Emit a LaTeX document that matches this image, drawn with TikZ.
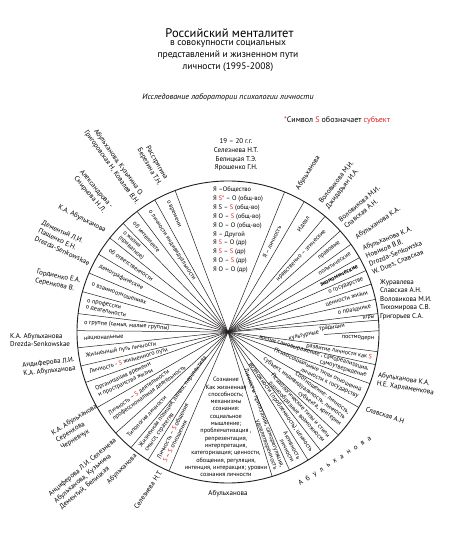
\documentclass[tikz,border=0pt]{standalone}
\usepackage{fontspec}
\setmainfont{PT Sans}
\usepackage{xcolor}
\usetikzlibrary{positioning}
\definecolor{cSubj}{RGB}{226,36,40}
\definecolor{cLine}{RGB}{35,31,32}
\newcommand{\Sr}{\textcolor{cSubj}{S}}
\newcommand{\gapL}{\hskip 4.6pt}

\begin{document}
\begin{tikzpicture}[x=1pt,y=1pt,
   sec/.style={inner sep=0.6pt,font=\fontsize{6.2}{6.9}\selectfont},
   secR/.style={sec,anchor=east,align=right},
   secL/.style={sec,anchor=west,align=left},
   who/.style={inner sep=0pt,align=center,font=\fontsize{7}{8.6}\selectfont},
   whoL/.style={who,align=left},
   spoke/.style={cLine,line width=0.5pt},
   rim/.style={cLine,line width=0.9pt}]
  \useasboundingbox (-228,-205) rectangle (222,332);
  \def\rad{151}
  \coordinate (c) at (0,0);

  % heading
  \node[font=\fontsize{12.5}{14}\selectfont] (title) at (1.5,299) {Российский менталитет};
  \node[align=center,inner sep=0pt,font=\fontsize{9.5}{12}\selectfont] (sub) at (0,276)
     {в совокупности социальных\\ представлений и жизненном пути\\ личности (1995-2008)};
  \node[font=\itshape\fontsize{8}{9}\selectfont] (study) at (0,235) {Исследование лаборатории психологии личности};
  \node[font=\fontsize{8}{9}\selectfont] (note) at (109,212)
     {\textcolor{cSubj}{*}Символ \Sr\ обозначает \textcolor{cSubj}{субъект}};

  % circle and spokes
  \draw[rim] (c) circle (\rad);
  \foreach \a in {110.5,68,59.7,50,42,35.5,29.5,24,18.5,12.5,7,4.5,-7.5,-12.5,-20,-30,-43,-52,-58,-66,-73,
                  119,127,134,141.5,149,157,164.5,173,179.5,186,193,199.5,210,222,230,238,247}
    \draw[spoke] (c) -- (\a:\rad);
  \coordinate (kSplit) at (96,-2.5);
  \draw[spoke] (kSplit) -- (0.5:\rad);

  % top sector
  \node[anchor=west,align=left,inner sep=0pt,font=\fontsize{6.5}{8.9}\selectfont] (soc) at (-15,102)
     {Я –Общество\\ Я \textcolor{cSubj}{S*} – O (общ-во)\\ Я S – \Sr\ (общ-во)\\ Я O – \Sr\ (общ-во)\\
      Я O – O (общ-во)\\ Я – Другой\\ Я \Sr\ – O (др)\\ Я \Sr\ – \Sr\ (др)\\ Я O – \Sr\ (др)\\ Я O – O (др)};

  % bottom sector
  \node[align=center,inner sep=0pt,font=\fontsize{6.2}{7.3}\selectfont] (cons) at (-2,-95)
     {Сознание\\ Как жизненная\\ способность;\\ механизмы\\ сознания:\\ социальное\\ мышление;\\
      проблематизация ,\\ репрезентация,\\ интерпретация,\\ категоризация; ценности,\\
      обощения, регуляция,\\ интенция, интеракция; уровни\\ сознания личности};

  % right sectors
  \node[sec,rotate=64] (sYaL) at (64:100) {Я – личность};
  \node[secR,rotate=55] (sIdeal) at (55:141) {Идеал};
  \node[secR,rotate=46] (sNrav) at (46:141) {нравственно – этические};
  \node[secR,rotate=38.75] (sPrav) at (38.75:144) {правовые};
  \node[secR,rotate=32.5] (sPolit) at (32.5:146) {политические};
  \node[secR,rotate=26.75] (sEkon) at (26.75:146) {\textbf{экономические}};
  \node[secR,rotate=21.25] (sGos) at (21.25:146) {о государстве};
  \node[secR,rotate=15.5] (sCen) at (15.5:146) {ценности жизни};
  \node[secR,rotate=9.75] (sPrazd) at (9.75:146) {о празднике};
  \node[secR,rotate=5.75,font=\fontsize{5.5}{6}\selectfont] (sIgry) at (5.75:148) {игры};
  \node[sec,rotate=8] (sTrad) at (104,4) {традиции};
  \node[sec,rotate=-2] (sPost) at (130,-6) {постмодерн};
  \node[sec,rotate=12] (sKult) at (76,-4) {культурные};
  \node[secR,rotate=-10] (sRazv) at (-10:147) {развитие личности как \Sr};
  \node[secR,rotate=-16.25] (sSamo) at (-16.25:146) {жизни самовыражение , самореализация,\\ самоутверждение};
  \node[secR,rotate=-25] (sPsy) at (-25:146) {Психосоциальные типы отношений\\ личности к государству};
  \node[secR,rotate=-36.5] (sSootn) at (-36.5:146) {Соотношение: личность,\\ субъект, индивидуальность, личность\\ субъекта, критерии};
  \node[secR,rotate=-47.5] (sTipy) at (-47.5:146) {Психологические типы и стили\\ разнообразные возможности};
  \node[secR,rotate=-55] (sVozm) at (-55:146) {возможности (проблемность), ценность};
  \node[secR,rotate=-62] (sAkt) at (-62:146) {Активность\\ личности};
  \node[secR,rotate=-69.5] (sPrit) at (-69.5:146) {Личность: притязания, саморегуляция,\\ удовлетворенность};

  % left sectors
  \node[secL,rotate=-65.25] (sVrem) at (114.75:145) {о времени};
  \node[secL,rotate=-57] (sIndiv) at (123:145) {о личности индивидуальности};
  \node[secL,rotate=-49.5] (sIntel) at (130.5:145) {об интеллекте};
  \node[secL,rotate=-42.25] (sZhizn) at (137.75:145) {о жизни\\ (приватное)};
  \node[secL,rotate=-34.75] (sOtv) at (145.25:145) {об ответственности};
  \node[secL,rotate=-27] (sDem) at (153:145) {демографические};
  \node[secL,rotate=-19.25] (sVzaim) at (160.75:145) {о взаимоотношениях};
  \node[secL,rotate=-11.25] (sProf) at (168.75:145) {о профессии\\ о деятельности};
  \node[secL,rotate=-3.75] (sGrup) at (176.25:145) {о группе (семья, малые группы)};
  \node[secL,rotate=2.75] (sNac) at (182.75:145) {национальные};
  \node[secL,rotate=9.5] (sPut) at (189.5:145) {Жизненный путь личности};
  \node[secL,rotate=16.25] (sSPut) at (196.25:145) {Личность - \Sr\ жизненного пути};
  \node[secL,rotate=24.75] (sOrg) at (204.75:145) {Организация времени\\ и пространства жизни};
  \node[secL,rotate=36] (sDeyat) at (216:145) {Личность – \Sr\ деятельности\\ профессиональная деятельность};
  \node[secL,rotate=46] (sTipol) at (226:145) {Типология личности};
  \node[secL,rotate=54] (sPoz) at (234:145) {Жизненная позиция, линия, перспектива\\ смысл, стратегия};
  \node[secL,rotate=62.5] (sObsh) at (242.5:145) {Личность – \Sr\ общения\\ \Sr\ – \Sr\ отношения};

  % authors round the circle
  \node[who] (aTop) at (8,177) {19 – 20 г.г.\\ Селезнева Н.Т.\\ Белицкая Т.Э.\\ Ярошенко Г.Н.};
  \node[who,rotate=-60] (aRas) at (-75,167) {Расстригина\\ Березина Т.Н.};
  \node[who,rotate=-54.5] (aKuz) at (-113,167) {Абульханова, Кузьмина О.\\ Григоровская Н, Ковалев В.Н.};
  \node[who,rotate=-50] (aAlex) at (-135,140) {Александрова -\\ Смирнова Н.Л.};
  \node[who,rotate=-27] (aKA1) at (-146,113) {К.А. Абульханова};
  \node[whoL,rotate=-25] (aDem) at (-162,89) {Дементий Л.И.\\ Пащенко Е.Н.\\ Drezda-Senkowskae};
  \node[whoL,rotate=-12] (aGord) at (-170,51) {Гордиенко Е.А.\\ Серенкова В.};
  \node[whoL,anchor=west] (aKA2) at (-218,-8) {К.А. Абульханова\\ Drezda-Senkowskae};
  \node[whoL,rotate=6] (aAnd) at (-179,-35) {Андиферова Л.И.\\ К.А. Абульханова};
  \node[whoL,rotate=32] (aSer) at (-149,-95) {К.А. Абульханова\\ Серенкова\\ Черневчук};
  \node[whoL,rotate=40] (aAnc) at (-140,-142) {Анциферова Л.И. Селезнева\\ Абульханова, Кузьмина\\ Дементий, Белицкая};
  \node[who,rotate=45] (aAb1) at (-106,-137) {Абульханова};
  \node[who,rotate=56] (aSel) at (-80,-158) {Селезнева Н.Т.};
  \node[who] (aAb2) at (0,-162) {Абульханова};
  \node[who,rotate=57.5] (aAb3) at (80,159) {Абульханова};
  \node[whoL,rotate=52] (aVol1) at (112,147) {Воловикова М.И.\\ Джидарьян И.А.};
  \node[whoL,rotate=40] (aVol2) at (134,125) {Воловикова М.И.\\ Славская А.Н.};
  \node[who,rotate=34] (aKA3) at (150,109) {Абульханова К.А.};
  \node[whoL,rotate=22] (aNov) at (166,82) {Абульханова К.А.\\ Новиков В.В.\\ Drozda-Senkowska\\ W. Dues, Славская};
  \node[whoL,anchor=west] (aZhur) at (152,32.5) {Журавлева\\ Славская А.Н.\\ Воловикова М.И.\\ Тихомирова С.В.\\ Григорьев С.А.};
  \node[whoL,rotate=-9] (aKhar) at (178,-52) {Абульханова К.А.\\ Н.Е. Харламенкова};
  \node[who,rotate=-18] (aSlav) at (157,-83) {Славская А.Н};
  \node[who,rotate=33] (aAbSp) at (107,-129)
     {А\gapL б\gapL у\gapL л\gapL ь\gapL х\gapL а\gapL н\gapL о\gapL в\gapL а};
\end{tikzpicture}
\end{document}
